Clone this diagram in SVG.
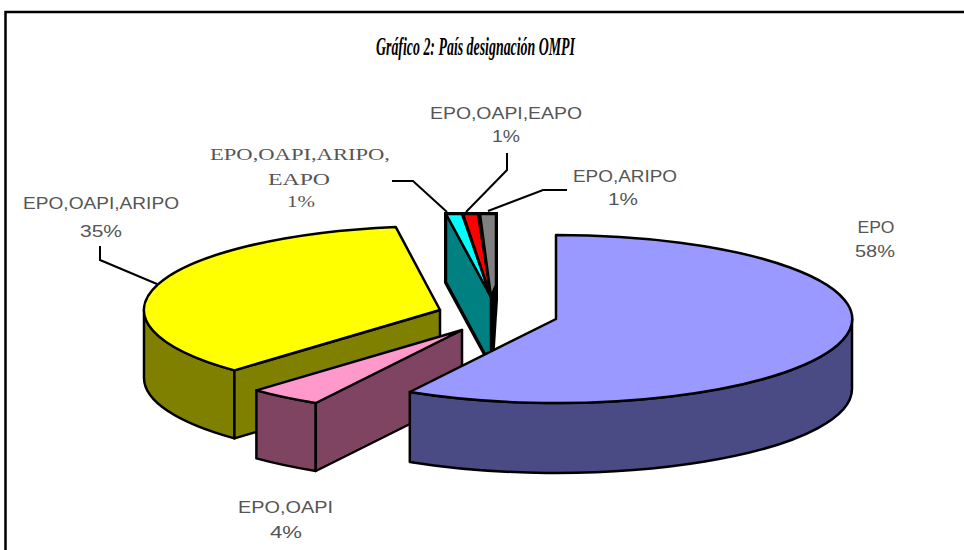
<svg xmlns="http://www.w3.org/2000/svg" width="964" height="550" viewBox="0 0 964 550">
<style>
.o{stroke:#000;stroke-width:2.5;stroke-linejoin:round}
.lbl{font-family:"Liberation Sans",Arial,sans-serif;font-size:16px;fill:#555;text-anchor:middle}
.lbls{font-family:"Liberation Serif","Times New Roman",serif;font-size:16px;fill:#555;text-anchor:middle}
.ttl{font-family:"Liberation Serif","Times New Roman",serif;font-size:26px;font-weight:bold;font-style:italic;fill:#000;text-anchor:middle}
.ld{fill:none;stroke:#000;stroke-width:2}
</style>
<rect width="964" height="550" fill="#fff"/>
<path d="M5.5,550 V12 H964" fill="none" stroke="#000" stroke-width="2.5"/>
<text class="ttl" x="475.5" y="55" textLength="199" lengthAdjust="spacingAndGlyphs">Gráfico 2: País designación OMPI</text>

<g id="slice-oapi-aripo">
<path class="o" fill="#808000" d="M234.4,370.4 A296,84 0 0 1 144,310 L144,378 A296,84 0 0 0 234.4,438.4 Z"/>
<path class="o" fill="#808000" d="M440,310 L234.4,370.4 L234.4,438.4 L440,378 Z"/>
<path class="o" fill="#ffff00" d="M440,310 L234.4,370.4 A296,84 0 0 1 395.7,226.9 Z"/>
<text class="lbl" x="101" y="209" textLength="156" lengthAdjust="spacingAndGlyphs">EPO,OAPI,ARIPO</text>
<text class="lbl" x="101" y="237" textLength="42" lengthAdjust="spacingAndGlyphs">35%</text>
</g>

<g id="slice-small">
<path fill="#000" d="M444,212 L498,212 L498,300 L494,362 L489,366 L444,283 Z"/>
<path class="o" fill="#008080" d="M446,214 L491,297 L491,365 L446,282 Z"/>
<path class="o" fill="#00ffff" d="M446,214 L462,214 L491,297 Z"/>
<path class="o" fill="#ff0000" d="M463,214 L478,214 L491,297 Z"/>
<path class="o" fill="#808080" d="M480,214 L496,214 L496,285 L491,297 Z"/>
</g>

<g id="label-oapi-aripo-eapo">
<text class="lbls" x="300" y="160" textLength="180" lengthAdjust="spacingAndGlyphs">EPO,OAPI,ARIPO,</text>
<text class="lbls" x="299" y="185" textLength="62" lengthAdjust="spacingAndGlyphs">EAPO</text>
<text class="lbls" x="301" y="207" textLength="28" lengthAdjust="spacingAndGlyphs">1%</text>
</g>
<g id="label-oapi-eapo">
<text class="lbl" x="506" y="119" textLength="152" lengthAdjust="spacingAndGlyphs">EPO,OAPI,EAPO</text>
<text class="lbl" x="506" y="142" textLength="28" lengthAdjust="spacingAndGlyphs">1%</text>
</g>
<g id="label-aripo">
<text class="lbl" x="625" y="182" textLength="104" lengthAdjust="spacingAndGlyphs">EPO,ARIPO</text>
<text class="lbl" x="623" y="205" textLength="30" lengthAdjust="spacingAndGlyphs">1%</text>
</g>

<g id="slice-oapi">
<path class="o" fill="#7f4462" d="M315.8,403 A296,84 0 0 1 256.4,390.4 L256.4,458.4 A296,84 0 0 0 315.8,471 Z"/>
<path class="o" fill="#7f4462" d="M462,330 L315.8,403 L315.8,471 L462,398 Z"/>
<path class="o" fill="#ff99cc" d="M462,330 L315.8,403 A296,84 0 0 1 256.4,390.4 Z"/>
<text class="lbl" x="285.5" y="513" textLength="95" lengthAdjust="spacingAndGlyphs">EPO,OAPI</text>
<text class="lbl" x="286" y="538" textLength="32" lengthAdjust="spacingAndGlyphs">4%</text>
</g>

<g id="slice-epo">
<path class="o" fill="#4a4a85" d="M852,319 A296,84 0 0 1 409.8,392 L409.8,462 A296,84 0 0 0 852,389 Z"/>
<path class="o" fill="#9999ff" d="M556,319 L556,235 A296,84 0 1 1 409.8,392 Z"/>
<text class="lbl" x="876" y="233" textLength="37" lengthAdjust="spacingAndGlyphs">EPO</text>
<text class="lbl" x="875" y="257" textLength="40" lengthAdjust="spacingAndGlyphs">58%</text>
</g>

<g id="connectors">
<polyline class="ld" points="100,246 100,260 157,284"/>
<polyline class="ld" points="447,212 413,181 392,181"/>
<polyline class="ld" points="466,212 507,170 507,153"/>
<polyline class="ld" points="488,211 543,190 567,190"/>
</g>
</svg>
